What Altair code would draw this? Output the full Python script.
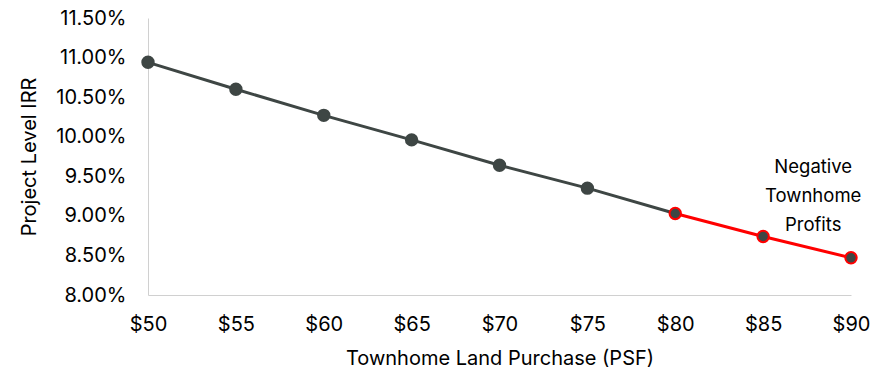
import altair as alt
import pandas as pd

price = [50, 55, 60, 65, 70, 75, 80, 85, 90]
irr = [0.1094, 0.1060, 0.1027, 0.0996, 0.0964, 0.0935, 0.0903, 0.0874, 0.0847]
negative = [False, False, False, False, False, False, True, True, True]

note_text = ["Negative", "Townhome", "Profits"]
note_x = [87.85]
note_y = [0.0973]

FONT = "Inter"
FS = 20
DARK = "#3E4644"
RED = "#FF0000"

pts = pd.DataFrame({"price": price, "irr": irr, "neg": negative})
rows = []
for p, v, n in zip(price, irr, negative):
    if p <= 80:
        rows.append({"price": p, "irr": v, "seg": "base"})
    if p >= 80:
        rows.append({"price": p, "irr": v, "seg": "neg"})
lines = pd.DataFrame(rows)

xs = alt.X("price:Q",
           scale=alt.Scale(domain=[50, 90], nice=False, zero=False),
           axis=alt.Axis(values=price, labelExpr="'$' + datum.value",
                         title="Townhome Land Purchase (PSF)",
                         grid=False, ticks=False, domainColor="#D0D0D0",
                         labelFontSize=FS, titleFontSize=FS, labelPadding=19,
                         titlePadding=14, labelColor="#000", titleColor="#000",
                         labelFlush=False, labelOverlap=False,
                         labelFont=FONT, titleFont=FONT, titleFontWeight="normal"))
ys = alt.Y("irr:Q",
           scale=alt.Scale(domain=[0.08, 0.115], nice=False, zero=False),
           axis=alt.Axis(values=[0.08, 0.085, 0.09, 0.095, 0.10, 0.105, 0.11, 0.115],
                         format=".2%", title="Project Level IRR",
                         grid=False, ticks=False, domainColor="#D0D0D0",
                         labelFontSize=FS, titleFontSize=FS, labelPadding=22,
                         titlePadding=16, labelColor="#000", titleColor="#000",
                         labelFlush=False, labelOverlap=False, labelBound=False,
                         labelFont=FONT, titleFont=FONT, titleFontWeight="normal"))

line = alt.Chart(lines).mark_line(strokeWidth=3).encode(
    x=xs, y=ys, detail="seg:N",
    color=alt.Color("seg:N", scale=alt.Scale(domain=["base", "neg"], range=[DARK, RED]), legend=None),
)
points = alt.Chart(pts).mark_point(filled=True, size=130, fill=DARK, strokeWidth=2, opacity=1).encode(
    x=xs, y=ys,
    stroke=alt.Stroke("neg:N", scale=alt.Scale(domain=[False, True], range=[DARK, RED]), legend=None),
)
note_df = pd.DataFrame({"price": note_x, "irr": note_y, "t": ["\n".join(note_text)]})
note = alt.Chart(note_df).mark_text(
    fontSize=18.5, font=FONT, align="center", baseline="top", lineBreak="\n", lineHeight=29, color="#000"
).encode(x=xs, y=ys, text="t:N")

chart = (line + points + note).properties(
    width=703, height=277,
    autosize="none",
    padding={"left": 148, "top": 18, "right": 37, "bottom": 78},
).configure_view(stroke=None)

chart.save("out.html", embed_options={"renderer": "svg", "actions": False})
